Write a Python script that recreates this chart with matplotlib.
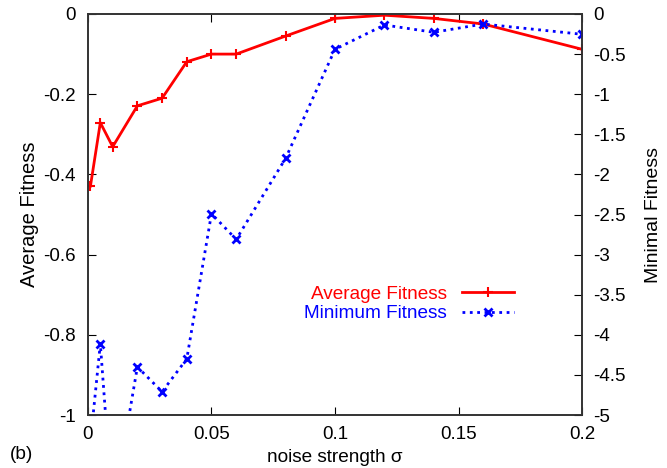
import matplotlib
matplotlib.use("Agg")
import matplotlib.pyplot as plt
import numpy as np

plt.rcParams["font.family"] = ["Liberation Sans", "DejaVu Sans"]
plt.rcParams["font.size"] = 13.5

# noise strength sigma
SIGMA = [0.001, 0.005, 0.01, 0.02, 0.03, 0.04, 0.05, 0.06, 0.08, 0.1, 0.12, 0.14, 0.16, 0.2]
# average fitness (left axis)
AVG_FIT = [-0.429, -0.271, -0.331, -0.229, -0.210, -0.119, -0.100, -0.100,
           -0.055, -0.011, -0.003, -0.011, -0.025, -0.088]
# minimum fitness (right axis)
MIN_FIT = [-5.33, -4.11, -6.2, -4.40, -4.71, -4.30, -2.49, -2.81,
           -1.80, -0.44, -0.137, -0.228, -0.125, -0.253]

fig = plt.figure(figsize=(6.67, 4.68), dpi=100)
ax = fig.add_axes([0.1319, 0.1132, 0.7407, 0.8569])
ax2 = ax.twinx()

l1, = ax.plot(SIGMA, AVG_FIT, color="red", linewidth=2, marker="+", markersize=7,
              markeredgewidth=1.5, label="Average Fitness")
l2, = ax2.plot(SIGMA, MIN_FIT, color="blue", linewidth=2, linestyle=":", marker="x",
               markersize=6, markeredgewidth=2, label="Minimum Fitness")

ax.set_xlim(0, 0.2)
ax.set_ylim(-1, 0)
ax2.set_ylim(-5, 0)
ax.set_xticks(np.arange(0, 0.201, 0.05), ["0", "0.05", "0.1", "0.15", "0.2"])
ax.set_yticks(np.arange(-1, 0.01, 0.2), ["-1", "-0.8", "-0.6", "-0.4", "-0.2", "0"])
ax2.set_yticks(np.arange(-5, 0.01, 0.5),
               ["-5", "-4.5", "-4", "-3.5", "-3", "-2.5", "-2", "-1.5", "-1", "-0.5", "0"])

ax.tick_params(axis="x", direction="in", top=True, length=6, pad=8)
ax.tick_params(axis="y", direction="in", length=6, pad=9)
ax2.tick_params(axis="y", direction="in", length=6, pad=8)

for a in (ax, ax2):
    for s in a.spines.values():
        s.set_color("#333333")
        s.set_linewidth(1.2)

ax.set_xlabel("noise strength σ", labelpad=4, fontsize=13.7)
ax.set_ylabel("Average Fitness", labelpad=3, fontsize=14.5)
ax2.set_ylabel("Minimal Fitness", labelpad=14, fontsize=14)

leg = ax.legend([l1, l2], ["Average Fitness", "Minimum Fitness"], loc="center",
                bbox_to_anchor=(0.65, 0.277), frameon=False, markerfirst=False,
                handlelength=2.7, handletextpad=0.8, labelspacing=0.1,
                labelcolor="linecolor", fontsize=13.7)

fig.text(0.015, 0.02, "(b)", fontsize=13.7)

fig.savefig("out.png", dpi=100)
